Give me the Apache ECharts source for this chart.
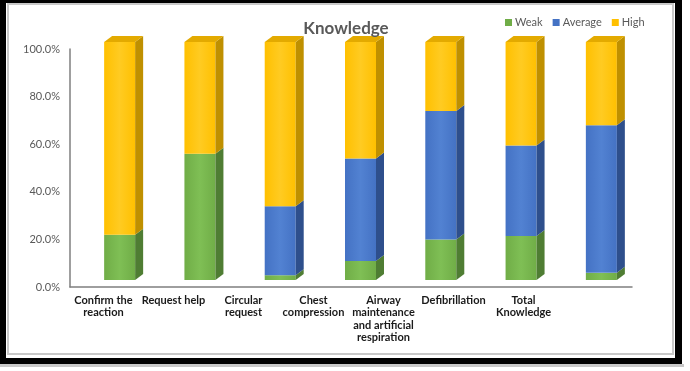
<!DOCTYPE html>
<html>
<head>
<meta charset="utf-8">
<script src="https://cdn.jsdelivr.net/npm/echarts@6/dist/echarts.min.js"></script>
<style>
    html, body { margin: 0; padding: 0; background: #fff; }
    #main { width: 690px; height: 371px; }
</style>
</head>
<body>
<div id="main"></div>
<script>
var categories = ['Confirm the reaction', 'Request help', 'Circular request', 'Chest compression',
    'Airway maintenance and artificial respiration', 'Defibrillation', 'Total Knowledge'];
var tickLabels = ['Confirm the\nreaction', 'Request help', 'Circular\nrequest', 'Chest\ncompression',
    'Airway\nmaintenance\nand artificial\nrespiration', 'Defibrillation', 'Total\nKnowledge'];
var weak = [19, 53, 2, 8, 17, 18.5, 3];
var average = [0, 0, 29, 43, 54, 38, 62];
var high = [81, 47, 69, 49, 29, 43.5, 35];

var levels = [
    { name: 'Weak', values: weak, front: '#70AD47', light: '#7FBF55', side: '#4F7D33', top: '#8CC766' },
    { name: 'Average', values: average, front: '#4472C4', light: '#5282D2', side: '#2E4F8C', top: '#6A8FD6' },
    { name: 'High', values: high, front: '#FFC000', light: '#FFCB22', side: '#BF9000', top: '#E3AA00' }
];

var chart = echarts.init(document.getElementById('main'));

// 3D column piece: front face, right side and (for the top piece) a cap
function makeRender(lv, isTop) {
    return function (params, api) {
        var idx = api.value(0);
        var c = api.coord([idx, 0])[0];
        var yb = api.coord([idx, api.value(1)])[1] - 7;
        var yt = api.coord([idx, api.value(2)])[1] - 7;
        if (yb - yt < 0.5) return;
        var x0 = c - 6, x1 = c + 25, dx = 8, dy = -6;
        var kids = [
            {
                type: 'rect',
                shape: { x: x0, y: yt, width: x1 - x0, height: yb - yt },
                style: {
                    fill: new echarts.graphic.LinearGradient(0, 0, 1, 0, [
                        { offset: 0, color: lv.front },
                        { offset: 0.5, color: lv.light },
                        { offset: 1, color: lv.front }
                    ])
                }
            },
            {
                type: 'polygon',
                shape: { points: [[x1, yt], [x1 + dx, yt + dy], [x1 + dx, yb + dy], [x1, yb]] },
                style: { fill: lv.side }
            }
        ];
        if (isTop) {
            kids.push({
                type: 'polygon',
                shape: { points: [[x0, yt], [x0 + dx, yt + dy], [x1 + dx, yt + dy], [x1, yt]] },
                style: { fill: lv.top }
            });
        }
        return { type: 'group', children: kids };
    };
}

var series = [];
var base = categories.map(function () { return 0; });
levels.forEach(function (lv, li) {
    var data = lv.values.map(function (v, i) {
        var row = [i, base[i], base[i] + v];
        base[i] += v;
        return row;
    });
    series.push({
        name: lv.name,
        type: 'custom',
        xAxisIndex: 0,
        yAxisIndex: 0,
        itemStyle: { color: lv.front },
        renderItem: makeRender(lv, li === levels.length - 1),
        encode: { x: 0, y: [1, 2] },
        data: data
    });
});

var option = {
    backgroundColor: '#fff',
    animation: false,
    title: {
        text: 'Knowledge',
        left: 341,
        textAlign: 'center',
        top: 15,
        textStyle: { fontFamily: 'Lato', fontWeight: 'bold', fontSize: 17, color: '#595959' }
    },
    legend: {
        left: 500,
        top: 12,
        icon: 'rect',
        itemWidth: 7,
        itemHeight: 7,
        itemGap: 10,
        textStyle: { fontFamily: 'Lato', fontSize: 11, color: '#595959', padding: [0, 0, 0, -2] },
        data: ['Weak', 'Average', 'High']
    },
    grid: [
        { left: 70, right: 58, top: 49, bottom: 84 },
        { left: 68.5, right: 131.5, top: 49, bottom: 84 }
    ],
    xAxis: [
        {
            type: 'category',
            gridIndex: 0,
            data: categories,
            axisLine: { lineStyle: { color: '#7F7F7F', width: 1.5 } },
            axisTick: { show: false },
            axisLabel: { show: false }
        },
        {
            type: 'category',
            gridIndex: 1,
            data: tickLabels,
            axisLine: { show: false },
            axisTick: { show: false },
            axisLabel: {
                interval: 0,
                margin: 7,
                fontFamily: 'Lato',
                fontWeight: 'bold',
                fontSize: 11,
                lineHeight: 12.5,
                color: '#1a1a1a'
            }
        }
    ],
    yAxis: [
        {
            type: 'value',
            gridIndex: 0,
            min: 0,
            max: 100,
            interval: 20,
            splitLine: { show: false },
            axisTick: { show: false },
            axisLine: { show: true, lineStyle: { color: '#7F7F7F', width: 1.5 } },
            axisLabel: {
                margin: 10,
                fontFamily: 'Lato',
                fontSize: 11,
                color: '#595959',
                formatter: function (v) { return v.toFixed(1) + '%'; }
            }
        },
        {
            type: 'value',
            gridIndex: 1,
            show: false,
            min: 0,
            max: 100
        }
    ],
    graphic: [
        { type: 'rect', z: 100, shape: { x: 8, y: 4, width: 665, height: 350 }, style: { fill: 'none', stroke: '#C8C8C8', lineWidth: 2 } },
        { type: 'rect', z: 100, shape: { x: 0, y: 364, width: 684, height: 3 }, style: { fill: '#C8C8C8' } },
        { type: 'rect', z: 101, shape: { x: 0, y: 0, width: 6, height: 364 }, style: { fill: '#000' } },
        { type: 'rect', z: 101, shape: { x: 0, y: 0, width: 682, height: 3 }, style: { fill: '#000' } },
        { type: 'rect', z: 101, shape: { x: 675, y: 0, width: 7, height: 364 }, style: { fill: '#000' } },
        { type: 'rect', z: 101, shape: { x: 0, y: 358, width: 682, height: 6 }, style: { fill: '#000' } }
    ],
    series: series
};

chart.setOption(option);
window.addEventListener('resize', function () {
    chart.resize();
});
</script>
</body>
</html>
